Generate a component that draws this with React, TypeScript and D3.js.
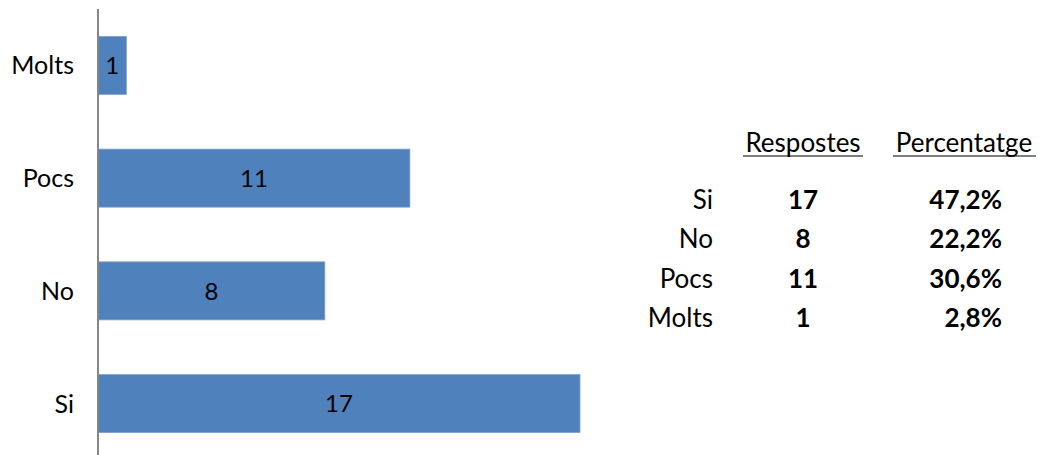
import React from "react";
import * as d3 from "d3";

const categories = ["Molts", "Pocs", "No", "Si"];
const values = [1, 11, 8, 17];

const tableRows = ["Si", "No", "Pocs", "Molts"];
const tableCounts = [17, 8, 11, 1];
const tablePercents = ["47,2%", "22,2%", "30,6%", "2,8%"];
const tableHeaders = ["Respostes", "Percentatge"];

const W = 1040;
const H = 455;
const FONT = "Lato, 'Open Sans', sans-serif";

export default function App() {
  const x = d3.scaleLinear().domain([0, 17]).range([98, 580]);
  const y = d3
    .scaleBand<string>()
    .domain(categories)
    .range([9, 460])
    .paddingInner(0.485)
    .paddingOuter(0.243);

  const rowY = d3.scalePoint<string>().domain(tableRows).range([209, 327]);

  return (
    <svg
      width={W}
      height={H}
      style={{ position: "absolute", left: 0, top: 0, background: "#fff" }}
      fontFamily={FONT}
    >
      {categories.map((c, i) => (
        <g key={c}>
          <rect
            x={x(0)}
            y={y(c)!}
            width={x(values[i]) - x(0)}
            height={y.bandwidth()}
            fill="#4F81BD"
            stroke="#7FA3D0"
            strokeWidth={0.8}
          />
          <text
            x={(x(0) + x(values[i])) / 2}
            y={y(c)! + y.bandwidth() / 2}
            dy="0.36em"
            textAnchor="middle"
            fontSize={24}
            fill="#000"
          >
            {values[i]}
          </text>
          <text
            x={74}
            y={y(c)! + y.bandwidth() / 2}
            dy="0.36em"
            textAnchor="end"
            fontSize={25}
            fill="#000"
          >
            {c}
          </text>
        </g>
      ))}
      <line x1={98} x2={98} y1={9} y2={H} stroke="#868686" strokeWidth={2} />

      {/* Table */}
      <text x={803} y={152} textAnchor="middle" fontSize={26} fill="#000">
        {tableHeaders[0]}
      </text>
      <line x1={743} x2={863} y1={156} y2={156} stroke="#000" strokeWidth={1.2} />
      <text x={964} y={152} textAnchor="middle" fontSize={26} fill="#000">
        {tableHeaders[1]}
      </text>
      <line x1={893} x2={1036} y1={156} y2={156} stroke="#000" strokeWidth={1.2} />
      {tableRows.map((r, i) => (
        <g key={r}>
          <text x={713} y={rowY(r)!} textAnchor="end" fontSize={26} fill="#000">
            {r}
          </text>
          <text x={803} y={rowY(r)!} textAnchor="middle" fontSize={26} fontWeight="bold" fill="#000">
            {tableCounts[i]}
          </text>
          <text x={1002} y={rowY(r)!} textAnchor="end" fontSize={26} fontWeight="bold" fill="#000">
            {tablePercents[i]}
          </text>
        </g>
      ))}
    </svg>
  );
}
